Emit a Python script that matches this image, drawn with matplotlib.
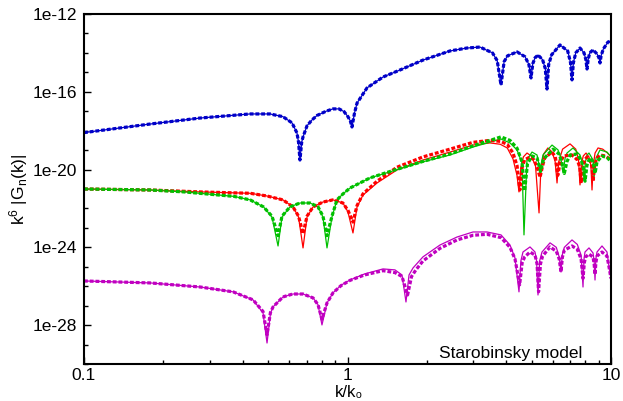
import numpy as np
import matplotlib
matplotlib.use("Agg")
import matplotlib.pyplot as plt
from matplotlib.ticker import LogLocator, FixedLocator, NullFormatter, FixedFormatter

plt.rcParams['font.family'] = ['Liberation Sans', 'DejaVu Sans']
plt.rcParams['mathtext.default'] = 'regular'

# ---------------- data (k/k0, log10 of k^6 |G_n(k)|) ----------------
blue_k = [0.100, 0.137, 0.178, 0.276, 0.427, 0.508, 0.569, 0.616, 0.643, 0.652, 0.660, 0.670, 0.678, 0.702, 0.733, 0.766, 0.829, 0.881, 0.928, 0.970, 1.004, 1.025, 1.040, 1.063, 1.087, 1.186, 1.364, 1.582, 1.934, 2.449, 2.841, 3.183, 3.550, 3.700, 3.824, 3.930, 4.050, 4.398, 4.720, 4.880, 4.971, 5.050, 5.150, 5.284, 5.500, 5.630, 5.716, 5.800, 5.950, 6.405, 6.850, 7.020, 7.112, 7.200, 7.350, 7.628, 7.900, 8.030, 8.109, 8.190, 8.300, 8.546, 8.850, 9.000, 9.085, 9.170, 9.350, 9.741, 10.0]
blue_logG = [-18.10, -17.86, -17.66, -17.35, -17.14, -17.14, -17.28, -17.60, -18.12, -18.60, -19.51, -18.60, -18.32, -17.75, -17.45, -17.22, -17.00, -16.88, -16.88, -17.02, -17.28, -17.50, -17.81, -17.10, -16.58, -15.80, -15.24, -14.88, -14.37, -13.90, -13.75, -13.70, -14.00, -14.40, -15.65, -14.45, -14.15, -13.95, -14.20, -14.60, -15.29, -14.55, -14.25, -14.11, -14.35, -14.80, -15.86, -14.60, -14.10, -13.59, -13.90, -14.50, -15.39, -14.50, -14.00, -13.75, -14.00, -14.35, -14.83, -14.35, -14.00, -13.85, -14.05, -14.25, -14.52, -14.15, -13.80, -13.44, -13.39]

red_k = [0.100, 0.178, 0.276, 0.427, 0.495, 0.569, 0.621, 0.652, 0.678, 0.702, 0.740, 0.807, 0.881, 0.961, 1.004, 1.049, 1.087, 1.145, 1.294, 1.541, 1.934, 2.449, 2.995, 3.474, 3.800, 4.040, 4.247, 4.398, 4.475, 4.550, 4.650, 4.800, 4.980, 5.170, 5.332, 5.420, 5.550, 5.760, 5.980, 6.140, 6.240, 6.330, 6.550, 6.990, 7.350, 7.530, 7.628, 7.720, 7.850, 8.040, 8.250, 8.390, 8.471, 8.560, 8.700, 8.930, 9.300, 9.700, 10.0]
red_logG = [-21.00, -21.05, -21.15, -21.22, -21.36, -21.56, -21.92, -22.44, -24.03, -22.44, -21.92, -21.67, -21.56, -21.72, -22.18, -23.26, -21.92, -21.31, -20.69, -20.02, -19.51, -19.10, -18.74, -18.63, -18.70, -18.89, -19.45, -20.30, -21.15, -19.90, -19.35, -19.15, -19.30, -19.80, -22.23, -19.90, -19.20, -18.89, -19.10, -19.60, -20.69, -19.60, -18.95, -18.68, -18.95, -19.50, -20.79, -19.70, -19.30, -19.15, -19.35, -19.80, -21.05, -19.80, -19.15, -18.89, -18.95, -19.15, -19.35]

red_dot_k = [0.100, 0.178, 0.276, 0.427, 0.495, 0.569, 0.621, 0.652, 0.678, 0.702, 0.740, 0.807, 0.881, 0.961, 1.004, 1.049, 1.087, 1.145, 1.294, 1.541, 1.934, 2.449, 2.995, 3.474, 3.800, 4.040, 4.247, 4.400, 4.510, 4.600, 4.700, 4.930, 5.100, 5.250, 5.380, 5.480, 5.600, 5.970, 6.150, 6.280, 6.400, 6.600, 7.110, 7.450, 7.620, 7.700, 7.800, 7.950, 8.110, 8.350, 8.480, 8.550, 8.650, 8.800, 9.080, 9.500, 10.0]
red_dot_logG = [-21.00, -21.05, -21.15, -21.22, -21.36, -21.56, -21.92, -22.40, -23.30, -22.40, -21.92, -21.67, -21.56, -21.72, -22.10, -22.70, -21.85, -21.25, -20.60, -19.88, -19.35, -18.95, -18.60, -18.50, -18.55, -18.70, -19.15, -19.80, -21.05, -19.90, -19.50, -19.35, -19.50, -19.90, -20.40, -19.90, -19.40, -19.10, -19.35, -20.30, -19.70, -19.30, -19.25, -19.50, -19.90, -20.70, -19.90, -19.50, -19.35, -19.55, -19.90, -20.60, -19.90, -19.45, -19.25, -19.30, -19.50]

green_k = [0.100, 0.178, 0.240, 0.371, 0.427, 0.480, 0.517, 0.545, 0.564, 0.605, 0.660, 0.721, 0.773, 0.807, 0.836, 0.873, 0.912, 0.960, 1.022, 1.217, 1.488, 1.934, 2.449, 2.995, 3.824, 4.137, 4.398, 4.594, 4.675, 4.799, 5.014, 5.239, 5.378, 5.520, 5.973, 6.295, 6.450, 6.574, 6.700, 6.808, 7.174, 7.628, 7.800, 7.899, 8.000, 8.109, 8.252, 8.546, 8.620, 8.773, 9.085, 9.656, 10.0]
green_logG = [-21.00, -21.05, -21.15, -21.38, -21.56, -21.92, -22.44, -23.93, -22.44, -21.92, -21.72, -21.72, -21.92, -22.44, -24.03, -22.44, -21.56, -21.26, -20.95, -20.43, -20.07, -19.60, -19.25, -18.84, -18.43, -18.63, -18.99, -19.66, -23.36, -19.51, -19.10, -19.25, -20.02, -19.25, -18.74, -18.99, -19.40, -20.17, -19.40, -19.15, -18.89, -19.25, -19.70, -20.53, -19.60, -19.25, -19.15, -19.51, -20.43, -19.40, -18.99, -19.10, -19.35]

green_dot_k = [0.100, 0.178, 0.240, 0.371, 0.427, 0.480, 0.517, 0.545, 0.564, 0.605, 0.660, 0.721, 0.773, 0.807, 0.836, 0.873, 0.912, 0.960, 1.022, 1.217, 1.488, 1.934, 2.449, 2.995, 3.824, 4.137, 4.398, 4.594, 4.700, 4.820, 5.014, 5.240, 5.400, 5.550, 6.030, 6.350, 6.500, 6.650, 6.800, 7.000, 7.400, 7.700, 7.850, 7.970, 8.100, 8.300, 8.550, 8.700, 8.850, 9.240, 9.700, 10.0]
green_dot_logG = [-21.00, -21.05, -21.15, -21.38, -21.56, -21.92, -22.40, -23.40, -22.40, -21.92, -21.72, -21.72, -21.92, -22.40, -23.40, -22.40, -21.56, -21.26, -20.95, -20.43, -20.05, -19.58, -19.20, -18.78, -18.32, -18.50, -18.90, -19.60, -21.10, -19.70, -19.30, -19.40, -20.10, -19.45, -18.95, -19.20, -19.60, -20.20, -19.60, -19.25, -19.20, -19.50, -19.90, -20.60, -19.80, -19.40, -19.60, -20.20, -19.60, -19.30, -19.40, -19.60]

mag_k = [0.100, 0.178, 0.276, 0.368, 0.438, 0.478, 0.495, 0.510, 0.522, 0.569, 0.620, 0.678, 0.740, 0.773, 0.800, 0.836, 0.881, 0.945, 1.022, 1.160, 1.364, 1.514, 1.610, 1.667, 1.712, 1.773, 1.934, 2.244, 2.603, 2.995, 3.383, 3.824, 4.137, 4.322, 4.475, 4.550, 4.634, 4.927, 5.148, 5.220, 5.284, 5.360, 5.472, 5.869, 6.200, 6.360, 6.460, 6.530, 6.650, 7.112, 7.450, 7.700, 7.830, 7.900, 7.968, 8.252, 8.546, 8.630, 8.696, 8.760, 8.850, 9.243, 9.656, 9.826, 10.0]
mag_logG = [-25.73, -25.83, -26.04, -26.29, -26.70, -27.37, -28.92, -27.40, -27.06, -26.55, -26.40, -26.40, -26.60, -26.95, -27.99, -26.86, -26.34, -25.95, -25.68, -25.37, -25.11, -25.16, -25.42, -26.81, -25.42, -25.06, -24.49, -23.88, -23.47, -23.21, -23.21, -23.36, -23.88, -24.55, -26.29, -24.70, -24.24, -23.98, -24.24, -24.70, -26.45, -24.70, -24.24, -23.77, -24.00, -24.50, -25.27, -24.40, -24.00, -23.62, -23.85, -24.40, -26.04, -24.60, -24.24, -24.03, -24.29, -24.70, -25.68, -24.60, -24.24, -23.93, -24.24, -25.00, -25.60]

mag_dot_k = [0.100, 0.178, 0.276, 0.368, 0.438, 0.478, 0.495, 0.510, 0.522, 0.569, 0.620, 0.678, 0.740, 0.773, 0.800, 0.836, 0.881, 0.945, 1.022, 1.160, 1.364, 1.514, 1.610, 1.690, 1.750, 1.820, 1.934, 2.244, 2.603, 2.995, 3.383, 3.824, 4.137, 4.322, 4.500, 4.600, 4.700, 4.927, 5.148, 5.240, 5.310, 5.400, 5.500, 5.869, 6.200, 6.360, 6.460, 6.540, 6.650, 7.112, 7.450, 7.700, 7.830, 7.920, 8.000, 8.252, 8.546, 8.630, 8.696, 8.760, 8.850, 9.243, 9.656, 9.826, 10.0]
mag_dot_logG = [-25.73, -25.83, -26.04, -26.29, -26.70, -27.30, -28.50, -27.35, -27.06, -26.55, -26.40, -26.40, -26.60, -26.95, -27.70, -26.86, -26.34, -25.97, -25.70, -25.42, -25.20, -25.30, -25.50, -26.45, -25.50, -25.15, -24.70, -24.05, -23.62, -23.38, -23.33, -23.50, -24.00, -24.60, -25.93, -24.80, -24.50, -24.24, -24.40, -24.85, -26.29, -24.85, -24.45, -23.98, -24.20, -24.60, -25.27, -24.50, -24.15, -23.93, -24.10, -24.60, -25.60, -24.80, -24.50, -24.35, -24.50, -24.85, -25.40, -24.80, -24.45, -24.24, -24.45, -25.00, -25.60]

ytick_vals = [1e-28, 1e-24, 1e-20, 1e-16, 1e-12]
ytick_labels = ["1e-28", "1e-24", "1e-20", "1e-16", "1e-12"]
xtick_vals = [0.1, 1, 10]
xtick_labels = ["0.1", "1", "10"]

BLUE = '#0000c8'
RED = '#ff0000'
GREEN = '#00c000'
MAG = '#c000c0'

# ---------------- figure ----------------
fig = plt.figure(figsize=(6.23, 4.01), dpi=100)
ax = fig.add_axes([84/623, 1-364/401, (611-84)/623, (364-14)/401])

solid = [(blue_k, blue_logG, BLUE), (red_k, red_logG, RED),
         (green_k, green_logG, GREEN), (mag_k, mag_logG, MAG)]
dotted = [(blue_k, blue_logG, BLUE), (red_dot_k, red_dot_logG, RED),
          (green_dot_k, green_dot_logG, GREEN), (mag_dot_k, mag_dot_logG, MAG)]

for k, lg, c in solid:
    ax.plot(k, 10.0**np.array(lg), color=c, lw=0.9)
for k, lg, c in dotted:
    ax.plot(k, 10.0**np.array(lg), color=c, lw=2.3, dashes=(1.2, 0.6),
            dash_capstyle='butt')

ax.set_xscale('log')
ax.set_yscale('log')
ax.set_xlim(0.1, 10)
ax.set_ylim(1e-30, 1e-12)

ax.xaxis.set_major_locator(FixedLocator(xtick_vals))
ax.xaxis.set_major_formatter(FixedFormatter(xtick_labels))
ax.xaxis.set_minor_locator(LogLocator(base=10, subs=np.arange(2, 10)))
ax.xaxis.set_minor_formatter(NullFormatter())

ax.yaxis.set_major_locator(FixedLocator(ytick_vals))
ax.yaxis.set_major_formatter(FixedFormatter(ytick_labels))
ax.yaxis.set_minor_locator(FixedLocator([10.0**e for e in range(-30, -11)]))
ax.yaxis.set_minor_formatter(NullFormatter())

ax.tick_params(which='both', direction='in', top=False, right=False,
               labelsize=12.5, colors='black')
ax.tick_params(which='major', length=5, width=1.0, pad=5)
ax.tick_params(which='minor', length=3, width=1.0)
ax.tick_params(axis='x', which='major', pad=3)
for s in ax.spines.values():
    s.set_linewidth(1.5)

# x-axis label as plain text with a Unicode subscript zero
fig.text(349/623, 1-392/401, "k/k\u2080", ha='center', va='center',
         fontsize=12, family=['Liberation Sans', 'DejaVu Sans'])
ax.set_ylabel("k$^6$ |G$_n$(k)|", fontsize=12.5, labelpad=2)

ax.text((582-84)/527, 0.016, "Starobinsky model", transform=ax.transAxes,
        ha='right', va='baseline', fontsize=12.5)

fig.savefig("out.png", dpi=100)
